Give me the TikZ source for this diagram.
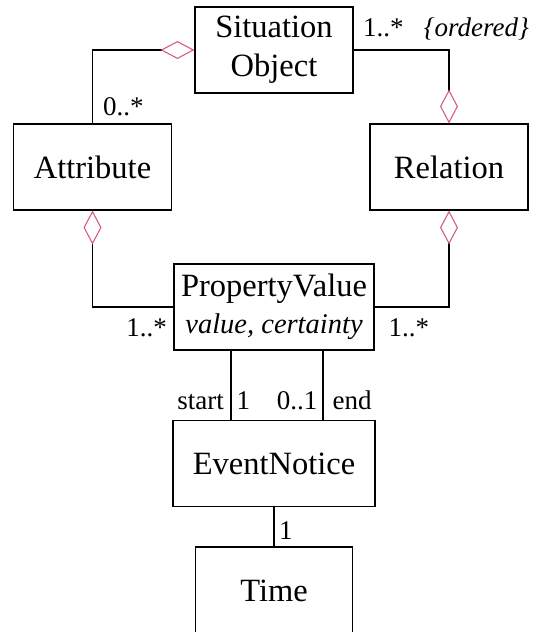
\documentclass[tikz,border=0pt]{standalone}
\usepackage{fontspec}
\setmainfont{Liberation Serif}
\usetikzlibrary{positioning, arrows.meta}
\definecolor{aggpink}{RGB}{212,92,134}

\begin{document}
\begin{tikzpicture}
	[on grid, line width=1.1pt,
	 class/.style={draw, rectangle, inner sep=0pt, minimum height=86pt, align=center,
	   font=\fontsize{32.5}{39}\selectfont},
	 mult/.style={inner sep=0pt, font=\fontsize{27}{32}\selectfont},
	 agg/.style={{Diamond[open, length=34pt, width=18pt, color=aggpink]}-}]
   \useasboundingbox (0,0) rectangle (545pt,-632pt);
   \node[class, minimum width=158pt] (sit) at (274pt,-50pt) {Situation\\Object};
   \node[class, minimum width=158pt] (att) [below left=117pt and 181.5pt of sit] {Attribute};
   \node[class, minimum width=158pt] (rel) [below right=117pt and 175pt of sit] {Relation};
   \node[class, minimum width=200pt] (pv) [below=257pt of sit]
        {PropertyValue\\[-2.5pt]{\fontsize{28.5}{34}\selectfont\itshape value, certainty}};
   \node[class, minimum width=202pt] (ev) [below=156.5pt of pv] {EventNotice};
   \node[class, minimum width=157pt, minimum height=88pt] (time) [below=127.5pt of ev] {Time};
    % aggregations
    \draw[agg] (sit.west) -- (sit.west -| att.north) -- (att.north)
          node[mult, anchor=base west, xshift=10pt, yshift=7.5pt] {0..*};
    \draw[agg] (rel.north) -- (rel.north |- sit.east) -- (sit.east)
          node[mult, anchor=base west, xshift=9pt, yshift=14pt] {1..*\hspace{0.75em}\textit{\{ordered\}}};
    \draw[agg] (att.south) -- (att.south |- pv.west) -- (pv.west)
          node[mult, anchor=base east, xshift=-6pt, yshift=-29.5pt] {1..*};
    \draw[agg] (rel.south) -- (rel.south |- pv.east) -- (pv.east)
          node[mult, anchor=base west, xshift=13.5pt, yshift=-29pt] {1..*};
    % associations
    \draw ([xshift=-43pt]pv.south) -- ([xshift=-43pt]pv.south |- ev.north)
          node[mult, anchor=base east, xshift=-6.5pt, yshift=10pt] {start}
          node[mult, anchor=base west, xshift=5pt, yshift=10pt] {1};
    \draw ([xshift=49pt]pv.south) -- ([xshift=49pt]pv.south |- ev.north)
          node[mult, anchor=base east, xshift=-5pt, yshift=10pt] {0..1}
          node[mult, anchor=base west, xshift=9pt, yshift=10pt] {end};
    \draw (ev.south) -- (time.north)
          node[mult, anchor=base west, xshift=4.5pt, yshift=6.8pt] {1};
\end{tikzpicture}
\end{document}
